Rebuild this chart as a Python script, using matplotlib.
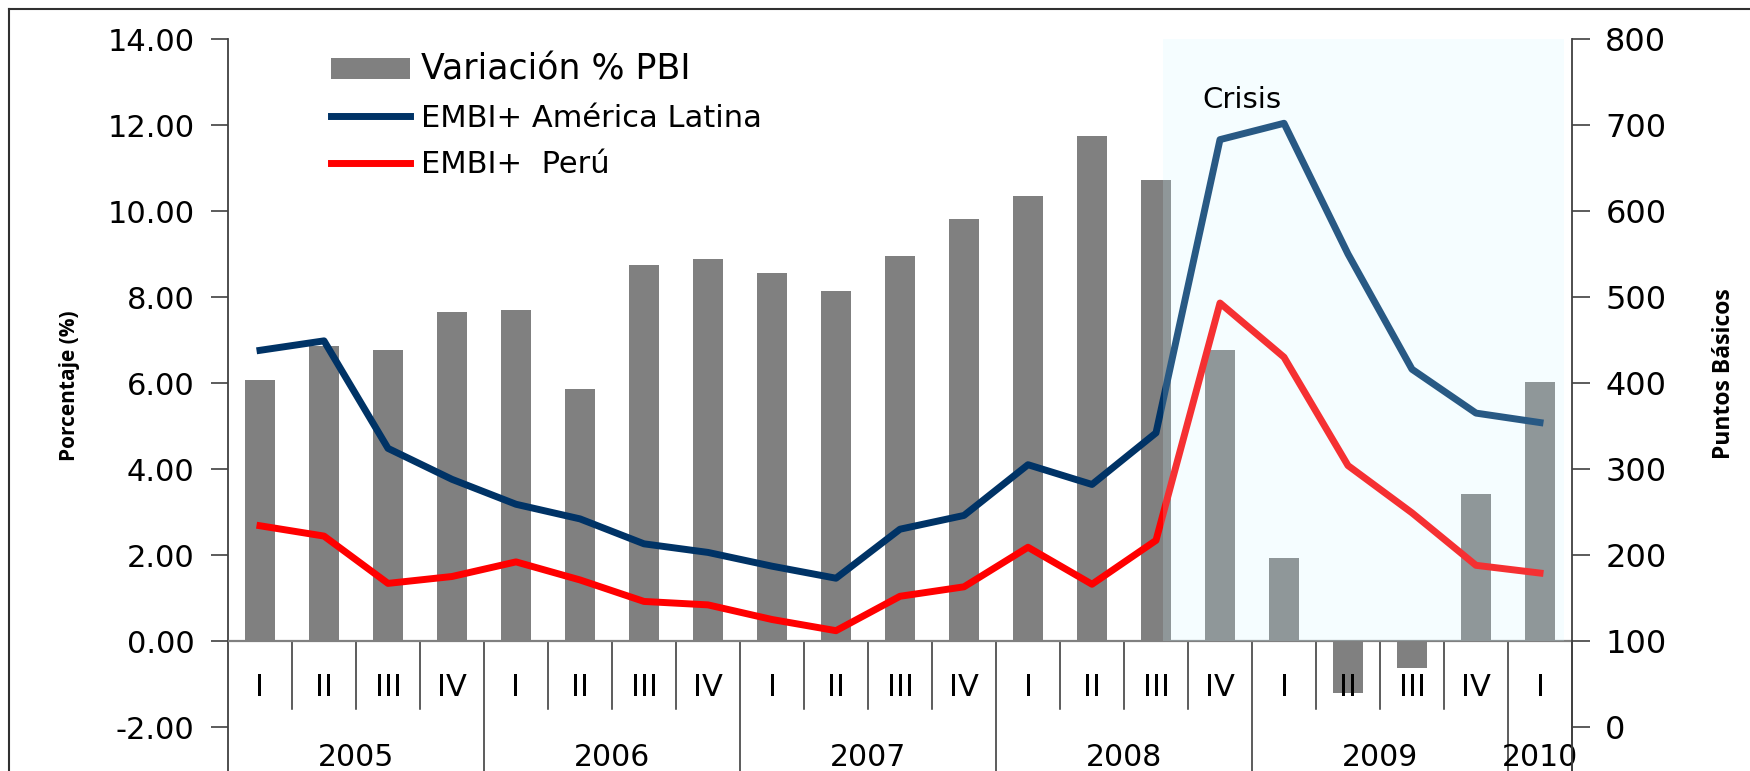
import numpy as np
import matplotlib
matplotlib.use("Agg")
import matplotlib.pyplot as plt
from matplotlib.lines import Line2D
from matplotlib.patches import Patch, Rectangle

# quarterly data 2005 I - 2010 I
quarters = ["I", "II", "III", "IV"] * 5 + ["I"]
years = ["2005", "2006", "2007", "2008", "2009", "2010"]
year_start = [0, 4, 8, 12, 16, 20]
gdp = [6.06, 6.86, 6.77, 7.64, 7.69, 5.85, 8.74, 8.88, 8.56, 8.15, 8.95,
       9.82, 10.35, 11.75, 10.73, 6.76, 1.92, -1.22, -0.62, 3.41, 6.02]
embi_latam = [438, 449, 324, 288, 259, 242, 213, 203, 187, 173, 230,
              246, 305, 282, 342, 683, 702, 550, 416, 365, 354]
embi_peru = [234, 222, 167, 175, 192, 171, 146, 142, 125, 112, 152,
             163, 209, 166, 217, 493, 430, 304, 249, 188, 179]

W, H = 1750, 771
fig = plt.figure(figsize=(W / 100, H / 100), dpi=100)
ax = fig.add_axes([228 / W, 0, 1344 / W, (H - 39) / H])
ax2 = ax.twinx()

x = np.arange(len(gdp))

# bars (left axis)
ax.bar(x, gdp, width=0.46, color="#808080", zorder=2)
ax.axhline(0, color="#808080", lw=1.6, zorder=3)
ax.set_xlim(-0.5, 20.5)
ax.set_ylim(-3.023, 14)
ax.set_yticks(np.arange(-2, 15, 2))
ax.set_yticklabels([f"{v:.2f}" for v in np.arange(-2, 15, 2)],
                   fontsize=22, family="DejaVu Sans")
ax.set_xticks([])
ax.tick_params(axis="y", direction="out", length=12, width=1.2,
               color="#404040", pad=12)
for s in ["top", "bottom", "right"]:
    ax.spines[s].set_visible(False)
ax.spines["left"].set_color("#404040")
ax.spines["left"].set_linewidth(1.3)

# category separators and labels
for i in range(1, len(gdp) + 1):
    b = i - 0.5
    if i in year_start or i == len(gdp):
        ax.plot([b, b], [0, -3.1], color="#303030", lw=1.1, clip_on=False, zorder=1)
    else:
        ax.plot([b, b], [0, -1.58], color="#303030", lw=1.1, clip_on=False, zorder=1)
for i, q in enumerate(quarters):
    ax.text(i, -1.09, q, ha="center", va="center", fontsize=22, family="DejaVu Sans")
for k, yr in enumerate(years):
    end = year_start[k + 1] if k + 1 < len(year_start) else len(gdp)
    ax.text((year_start[k] + end - 1) / 2, -2.72, yr, ha="center", va="center",
            fontsize=21.5, family="DejaVu Sans", clip_on=False)

# lines (right axis)
ax2.plot(x, embi_latam, color="#003366", lw=5, zorder=3)
ax2.plot(x, embi_peru, color="#FF0000", lw=5, zorder=3)
ax2.set_ylim(-51.16, 800)
ax2.set_yticks(np.arange(0, 801, 100))
ax2.set_yticklabels([str(v) for v in range(0, 801, 100)], fontsize=23, family="DejaVu Sans")
ax2.tick_params(axis="y", direction="out", length=13, width=1.2,
                color="#404040", pad=11)
for s in ["top", "bottom", "left"]:
    ax2.spines[s].set_visible(False)
ax2.spines["right"].set_color("#404040")
ax2.spines["right"].set_linewidth(1.3)

# crisis shading over bars and lines
ax2.add_patch(Rectangle((14.11, 100), 6.265, 700, facecolor="#CDF5FF",
                        edgecolor="none", alpha=0.2, zorder=5))
ax2.text(15.35, 729, "Crisis", ha="center", va="center", fontsize=21,
         family="DejaVu Sans", zorder=6)

# legend
handles = [Patch(facecolor="#808080"),
           Line2D([], [], color="#003366", lw=5),
           Line2D([], [], color="#FF0000", lw=5)]
labels = ["Variación % PBI", "EMBI+ América Latina", "EMBI+  Perú"]
leg = ax2.legend(handles, labels, loc="upper left",
                 bbox_to_anchor=(331 / W, 1 - 52 / H), bbox_transform=fig.transFigure,
                 frameon=False, prop={"family": "DejaVu Sans", "size": 22},
                 handlelength=2.6, handletextpad=0.33, labelspacing=0.58,
                 borderpad=0, borderaxespad=0)
leg.get_texts()[0].set_fontsize(25)

# axis titles
fig.text(69 / W, 1 - 386 / H, "Porcentaje (%)", rotation=90, ha="center", va="center",
         fontsize=15, fontweight="bold", family="Open Sans")
fig.text(1724 / W, 1 - 374 / H, "Puntos Básicos", rotation=90, ha="center", va="center",
         fontsize=16.5, fontweight="bold", family="Open Sans")

# outer frame
fig.add_artist(Line2D([9 / W, 9 / W], [0, 1 - 9 / H], color="#303030", lw=1.5))
fig.add_artist(Line2D([9 / W, 1], [1 - 9 / H, 1 - 9 / H], color="#303030", lw=1.5))

fig.savefig("out.png", dpi=100)
